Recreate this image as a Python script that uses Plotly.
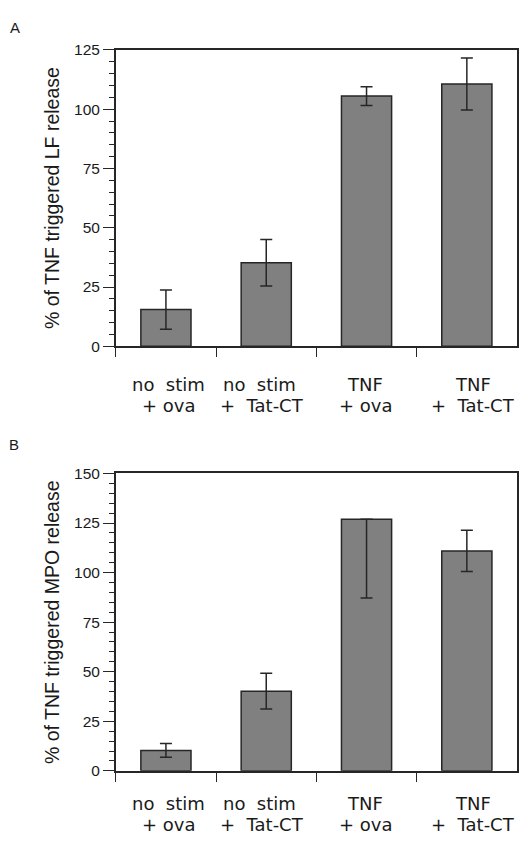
import plotly.graph_objects as go

categories = ["no stim + ova", "no stim + Tat-CT", "TNF + ova", "TNF + Tat-CT"]
label_line1 = ["no\u00a0\u00a0stim", "no\u00a0\u00a0stim", "TNF", "TNF"]
label_line2 = ["+ ova", "+\u00a0\u00a0Tat-CT", "+ ova", "+\u00a0\u00a0Tat-CT"]
lf_values = [15.5, 35.3, 105.5, 110.6]
lf_err_plus = [8.3, 9.8, 4.0, 11.0]
lf_err_minus = [8.3, 9.8, 4.0, 11.0]
mpo_values = [10.3, 40.2, 126.9, 110.9]
mpo_err_plus = [3.5, 9.0, 0.0, 10.4]
mpo_err_minus = [3.5, 9.0, 39.7, 10.4]
lf_ticks = [0, 25, 50, 75, 100, 125]
mpo_ticks = [0, 25, 50, 75, 100, 125, 150]
panel_labels = ["A", "B"]
y_titles = ["% of TNF triggered LF release", "% of TNF triggered MPO release"]

W, H = 519, 844
BAR = "#808080"
DARK = "#262626"
TXT = "#1a1a1a"

# pixel layout (style, not data)
label_xshift1 = [3, -7, -2, 6]
label_xshift2 = [3, -4, -1, 6]
panel_geom = [  # (top px, bottom px, line1 baseline, line2 baseline, letter y)
    (41.7, 344.3, 390.0, 411.5, 18.5),
    (474.0, 777.5, 817.5, 839.0, 444.0),
]


def px_x(v):
    return v / W


def px_y(v):
    return 1 - v / H


fig = go.Figure()
for i, (vals, ep, em) in enumerate([(lf_values, lf_err_plus, lf_err_minus),
                                    (mpo_values, mpo_err_plus, mpo_err_minus)]):
    sfx = "" if i == 0 else str(i + 1)
    fig.add_trace(go.Bar(
        x=categories, y=vals, xaxis="x" + sfx, yaxis="y" + sfx, width=0.5,
        marker=dict(color=BAR, line=dict(color=DARK, width=1.5)),
        error_y=dict(type="data", symmetric=False, array=ep, arrayminus=em,
                     color=DARK, thickness=1.5, width=6),
        showlegend=False))

xdom = [px_x(116), px_x(518)]
xcommon = dict(type="category", range=[-0.5, 3.5], tickson="boundaries", ticks="outside",
               ticklen=9, tickwidth=1.2, tickcolor=DARK, showline=True, linecolor=DARK,
               linewidth=1.5, mirror=True, showgrid=False, showticklabels=False,
               domain=xdom)
ycommon = dict(ticks="outside", ticklen=11, tickwidth=1.2, tickcolor=DARK, showline=True,
               linecolor=DARK, linewidth=1.5, mirror=True, showgrid=False, zeroline=False,
               tickfont=dict(family="Liberation Sans", size=15.5, color=TXT),
               minor=dict(ticks="outside", ticklen=5, tickwidth=1, tickcolor=DARK, dtick=5,
                          showgrid=False))

fig.update_layout(
    width=W, height=H, margin=dict(l=0, r=0, t=0, b=0), autosize=False,
    paper_bgcolor="white", plot_bgcolor="white",
    xaxis=dict(anchor="y", **xcommon),
    xaxis2=dict(anchor="y2", **xcommon),
    yaxis=dict(anchor="x", domain=[px_y(panel_geom[0][1]), px_y(panel_geom[0][0])],
               range=[0, 125], tickvals=lf_ticks, **ycommon),
    yaxis2=dict(anchor="x2", domain=[px_y(panel_geom[1][1]), px_y(panel_geom[1][0])],
                range=[0, 150], tickvals=mpo_ticks, **ycommon),
)

# category labels (two lines, tight leading as in the original)
for p, (top, bot, b1, b2, ly) in enumerate(panel_geom):
    xr = "x" if p == 0 else "x2"
    for cat, l1, l2, s1, s2 in zip(categories, label_line1, label_line2,
                                   label_xshift1, label_xshift2):
        for txt, base, sh in [(l1, b1, s1), (l2, b2, s2)]:
            fig.add_annotation(text=txt, x=cat, xref=xr, y=px_y(base - 6.5), yref="paper",
                               showarrow=False, xanchor="center", yanchor="middle",
                               xshift=sh,
                               font=dict(family="DejaVu Sans", size=18, color=TXT))

for lab, (geom, lx) in zip(panel_labels, zip(panel_geom, [15, 14.5])):
    fig.add_annotation(text=lab, x=px_x(lx), y=px_y(geom[4]), xref="paper", yref="paper",
                       showarrow=False, xanchor="center", yanchor="middle",
                       font=dict(family="Liberation Sans", size=15, color=TXT))
for t, geom in zip(y_titles, panel_geom):
    cy = (geom[0] + geom[1]) / 2
    fig.add_annotation(text=t, x=px_x(52), y=px_y(cy), xref="paper", yref="paper",
                       showarrow=False, xanchor="center", yanchor="middle", textangle=-90,
                       font=dict(family="Liberation Sans", size=19.5, color=TXT))

post = (
    "var gd=document.getElementById('{plot_id}');"
    "var h=document.documentElement,b=document.body;"
    "[h,b].forEach(function(e){e.style.margin='0';e.style.padding='0';"
    "e.style.overflow='hidden';e.style.width='519px';e.style.height='844px';});"
    "gd.style.position='absolute';gd.style.left='0px';gd.style.top='0px';"
)

fig.write_html("out.html", config={"displayModeBar": False, "responsive": False},
               post_script=post)
